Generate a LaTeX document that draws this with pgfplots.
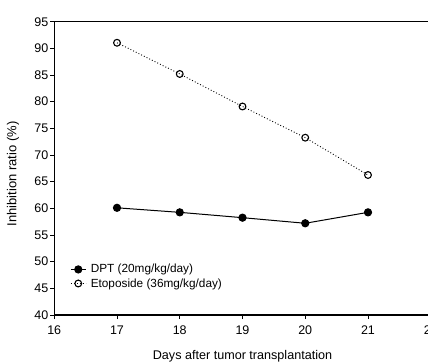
\documentclass[border=0pt]{standalone}
\usepackage{pgfplots}
\pgfplotsset{compat=1.18}
\usepackage{fontspec}
\setmainfont{Liberation Sans}
\begin{document}
\begin{tikzpicture}
\path[use as bounding box, clip] (0,0) rectangle (428pt,362pt);
\begin{axis}[
  at={(54.25pt,47pt)}, anchor=south west,
  scale only axis, width=376.5pt, height=293.3pt,
  xmin=16, xmax=22, ymin=40, ymax=95,
  xtick={16,17,18,19,20,21,22}, ytick={40,45,...,95},
  xtick pos=left, ytick pos=left,
  tick align=outside, major tick length=4pt,
  axis line style={line width=1.2pt},
  every tick/.style={black, line width=0.9pt},
  /pgf/number format/assume math mode=true,
  ticklabel style={font=\fontsize{12.5}{14}\selectfont},
  xticklabel style={yshift=-3pt},
  yticklabel style={xshift=1.5pt},
  xlabel={Days after tumor transplantation},
  ylabel={Inhibition ratio (\%)},
  xlabel style={at={(axis description cs:0.5,0)}, anchor=north, inner sep=0pt, yshift=-35pt, font=\fontsize{12.6}{14}\selectfont},
  ylabel style={at={(axis description cs:-0.1096,0.481)}, anchor=center, inner sep=0pt, font=\fontsize{13}{15}\selectfont},
  legend style={at={(axis description cs:0.042,0.18)}, anchor=north west, draw=none, fill=none, inner sep=0pt,
    font=\fontsize{11.8}{13}\selectfont, row sep=0pt, /tikz/every odd column/.append style={column sep=2.5pt}},
  legend cell align=left,
  legend image code/.code={\draw[mark repeat=2,mark phase=2,#1] plot coordinates {(0pt,0pt) (7.5pt,0pt) (15pt,0pt)};},
]
\addplot[black, line width=1pt, mark=*, mark size=3.6pt, mark options={solid, fill=black}]
  coordinates {(17,60.1) (18,59.25) (19,58.25) (20,57.2) (21,59.25)};
\addlegendentry{DPT (20mg/kg/day)}
\addplot[black, line width=0.9pt, dash pattern=on 0.9pt off 2.1pt, mark=o, mark size=3.4pt, mark options={solid, line width=1.1pt, fill=white}]
  coordinates {(17,91.05) (18,85.2) (19,79.1) (20,73.25) (21,66.25)};
\addlegendentry{Etoposide (36mg/kg/day)}
\end{axis}
\end{tikzpicture}
\end{document}
